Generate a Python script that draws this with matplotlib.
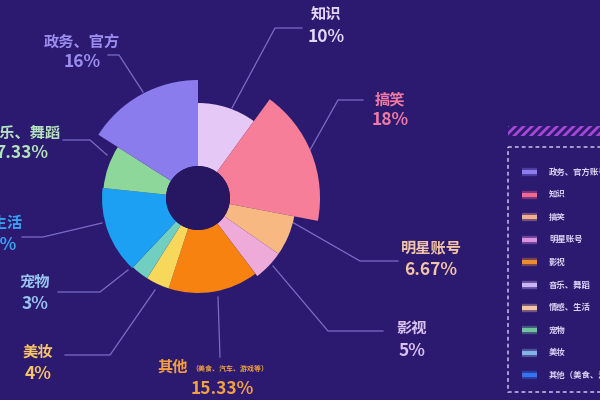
import numpy as np
import matplotlib as mpl
import matplotlib.pyplot as plt
from matplotlib.patches import Wedge, Rectangle, Circle

plt.rcParams['font.family'] = ['Noto Sans CJK SC', 'DejaVu Sans']
plt.rcParams['hatch.linewidth'] = 2.0

# clockwise from 12 o'clock
names = ['知识', '搞笑', '明星账号', '影视', '其他', '美妆', '宠物',
         '情感、生活', '音乐、舞蹈', '政务、官方']
shares = [10, 18, 6.67, 5, 15.33, 4, 3, 14.67, 7.33, 16]
pct_text = ['10%', '18%', '6.67%', '5%', '15.33%', '4%', '3%',
            '14.67%', '7.33%', '16%']
radii = [95, 122, 98, 98, 95, 95, 95, 96, 95, 118]
colors = ['#e6c8f6', '#f77e98', '#f8b882', '#eeaad8', '#f8820f',
          '#f8d85a', '#70cfc0', '#1ba0f4', '#8ed79a', '#8b7cee']
label_colors = ['#e4d6f6', '#f07aa4', '#f4c4a8', '#d8c0f0', '#f5a040',
                '#f7c46a', '#98c4f0', '#3aa0f2', '#b4e2bc', '#9c8ef0']

legend_names = ['政务、官方账号', '知识', '搞笑', '明星账号', '影视',
                '音乐、舞蹈', '情感、生活', '宠物', '美妆', '其他（美食、汽车、游戏等）']
legend_colors = ['#8c7ef0', '#f06a90', '#f4b08c', '#dc90e0', '#f08a30',
                 '#cdb4f4', '#f6c4a4', '#70c49a', '#84b4e6', '#3274f2']

BG = '#2c1a70'
HOLE = '#271662'
LINE = '#7a6cc8'


def main() -> None:

    fig = plt.figure(figsize=(6, 4), dpi=100, facecolor=BG)
    ax = fig.add_axes([0, 0, 1, 1])
    ax.set_facecolor(BG)
    ax.set_xlim(0, 600)
    ax.set_ylim(400, 0)
    ax.set_aspect('equal')
    ax.axis('off')

    cx, cy = 198, 198
    hole = 32

    # Rose wedges
    start = 0.0
    for share, r, c in zip(shares, radii, colors):
        a1 = start
        a2 = start + share / 100 * 360
        ax.add_patch(Wedge(
            (cx, cy), r, a1 - 90, a2 - 90,
            width=r - hole,
            facecolor=c,
            edgecolor='none',
            zorder=2,
        ))
        start = a2

    ax.add_patch(Circle((cx, cy), hole, facecolor=HOLE, edgecolor='none', zorder=2))

    # Leader lines (pixel layout)
    leaders = [
        [(232, 108), (275, 28), (302, 28)],
        [(310, 150), (338, 100), (363, 100)],
        [(292, 222), (360, 261), (398, 261)],
        [(273, 266), (328, 331), (383, 331)],
        [(218, 297), (220, 357)],
        [(155, 290), (110, 355), (65, 355)],
        [(128, 270), (100, 292), (58, 292)],
        [(102, 223), (43, 237), (22, 237)],
        [(107, 155), (90, 140), (63, 140)],
        [(143, 92), (119, 55), (108, 55)],
    ]
    for pts in leaders:
        xs, ys = zip(*pts)
        ax.plot(xs, ys, lw=0.9, color=LINE, zorder=1)

    # Labels (name, pct) centred at given x
    label_pos = [
        (326, 15, 37),
        (390, 100, 120),
        (431, 248, 270),
        (412, 328, 351),
        (173, 367, 389),
        (38, 352, 374),
        (35, 282, 304),
        (-15, 223, 245),
        (22, 133, 153),
        (82, 42, 62),
    ]
    for i, (x, y1, y2) in enumerate(label_pos):
        px = x
        if names[i] == '其他':
            ax.text(x + 18, y1 + 1, '（美食、汽车、游戏等）', color=label_colors[i],
                    fontsize=5, ha='left', va='center', weight='bold', zorder=3)
            px = 222
        ax.text(x, y1, names[i], color=label_colors[i], fontsize=11,
                ha='center', va='center', weight='bold', zorder=3)
        ax.text(px, y2, pct_text[i], color=label_colors[i], fontsize=12.5,
                ha='center', va='center', weight='bold', zorder=3)

    # Decorative hatched bar
    ax.add_patch(Rectangle(
        (508, 126), 100, 10,
        facecolor='none',
        edgecolor='#a846d8',
        hatch='////',
        lw=0,
        zorder=1,
    ))

    # Legend box
    ax.add_patch(Rectangle(
        (508, 147), 100, 245,
        facecolor='none',
        edgecolor='#c8c0ee',
        lw=1.1,
        ls=(0, (2.5, 2)),
        zorder=1,
    ))
    y0, dy = 172, 22.6
    for i, (nm, c) in enumerate(zip(legend_names, legend_colors)):
        y = y0 + i * dy
        ax.plot([522, 537], [y, y], lw=6, color=c, alpha=0.35,
                solid_capstyle='butt', zorder=2)
        ax.plot([522, 537], [y, y], lw=3, color=c,
                solid_capstyle='butt', zorder=2)
        ax.text(549, y, nm, color='#dcd4f6', fontsize=6,
                ha='left', va='center', weight='bold', zorder=2)

    fig.savefig('out.png', dpi=100, facecolor=BG)


if __name__ == '__main__':
    main()
